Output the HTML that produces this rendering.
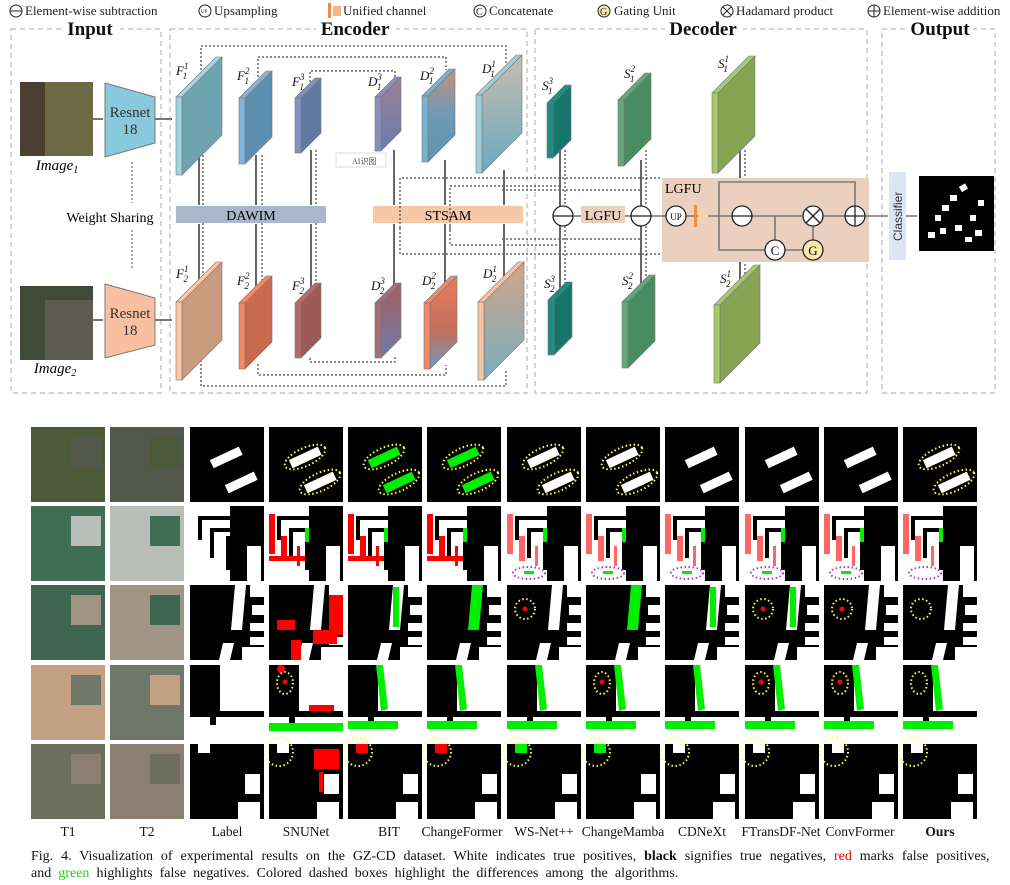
<!DOCTYPE html>
<html><head><meta charset="utf-8"><style>
body{margin:0;background:#fff;width:1010px;height:885px;overflow:hidden;font-family:"Liberation Serif",serif}
svg{position:absolute;left:0;top:0}
.cap{position:absolute;left:31px;width:960px;font-size:14px;line-height:17px;color:#111;white-space:nowrap}
</style></head><body>
<svg id="s" width="1010" height="885" xmlns="http://www.w3.org/2000/svg" font-family="Liberation Serif, serif">
<defs>
<linearGradient id="gd1" x1="0" y1="0" x2="0" y2="1"><stop offset="0" stop-color="#9c7f95"/><stop offset="1" stop-color="#6a7cae"/></linearGradient>
<linearGradient id="gd2" x1="0" y1="0" x2="0" y2="1"><stop offset="0" stop-color="#c4907f"/><stop offset="0.5" stop-color="#6d9ab5"/><stop offset="1" stop-color="#5f93ad"/></linearGradient>
<linearGradient id="gd3" x1="0" y1="0" x2="0" y2="1"><stop offset="0" stop-color="#c8bcae"/><stop offset="1" stop-color="#6aaac0"/></linearGradient>
<linearGradient id="ge1" x1="0" y1="0" x2="0" y2="1"><stop offset="0" stop-color="#a36060"/><stop offset="1" stop-color="#6d7aa9"/></linearGradient>
<linearGradient id="ge2" x1="0" y1="0" x2="0" y2="1"><stop offset="0" stop-color="#e87d5c"/><stop offset="0.6" stop-color="#c46e5e"/><stop offset="1" stop-color="#6a9cc0"/></linearGradient>
<linearGradient id="ge3" x1="0" y1="0" x2="0" y2="1"><stop offset="0" stop-color="#d2a488"/><stop offset="1" stop-color="#79aebf"/></linearGradient>
</defs>
<g font-size="13" fill="#222">
<circle cx="16" cy="11" r="6" fill="none" stroke="#222"/><line x1="10" y1="11" x2="22" y2="11" stroke="#222"/>
<text x="25" y="15">Element-wise subtraction</text>
<circle cx="205" cy="11" r="6" fill="none" stroke="#222"/><text x="201" y="13" font-size="5">UP</text>
<text x="214" y="15">Upsampling</text>
<rect x="328" y="3" width="3" height="16" fill="#f08a3c"/><rect x="333" y="6" width="8" height="10" fill="#f3b58a"/>
<text x="343" y="15">Unified channel</text>
<circle cx="480" cy="11" r="6" fill="none" stroke="#222"/><text x="476" y="15" font-size="10">C</text>
<text x="489" y="15">Concatenate</text>
<circle cx="604" cy="11" r="6" fill="#f8e8a8" stroke="#222"/><text x="600" y="15" font-size="10">G</text>
<text x="614" y="15">Gating Unit</text>
<circle cx="727" cy="11" r="6" fill="none" stroke="#222"/><line x1="723" y1="7" x2="731" y2="15" stroke="#222"/><line x1="731" y1="7" x2="723" y2="15" stroke="#222"/>
<text x="736" y="15">Hadamard product</text>
<circle cx="874" cy="11" r="6" fill="none" stroke="#222"/><line x1="868" y1="11" x2="880" y2="11" stroke="#222"/><line x1="874" y1="5" x2="874" y2="17" stroke="#222"/>
<text x="883" y="15">Element-wise addition</text>
</g>
<g fill="none" stroke="#bbb" stroke-dasharray="5,4" stroke-width="1.2">
<rect x="11" y="29" width="150" height="364"/>
<rect x="170" y="29" width="357" height="364"/>
<rect x="535" y="29" width="332" height="364"/>
<rect x="882" y="29" width="113" height="364"/>
</g>
<g font-weight="bold" font-size="19" text-anchor="middle" fill="#111">
<rect x="62" y="18" width="58" height="20" fill="#fff"/><text x="90" y="35">Input</text>
<rect x="316" y="18" width="80" height="20" fill="#fff"/><text x="355" y="35">Encoder</text>
<rect x="665" y="18" width="78" height="20" fill="#fff"/><text x="703" y="35">Decoder</text>
<rect x="907" y="18" width="66" height="20" fill="#fff"/><text x="940" y="35">Output</text>
</g>
<rect x="20" y="82" width="73" height="74" fill="#6e6a45"/><rect x="20" y="82" width="25" height="74" fill="#4b3f31"/>
<rect x="20" y="286" width="73" height="74" fill="#3f4a38"/><rect x="45" y="300" width="48" height="60" fill="#5d5c52"/>
<text x="57" y="170" font-size="15" font-style="italic" text-anchor="middle">Image<tspan font-size="10" dy="3">1</tspan></text>
<text x="55" y="373" font-size="15" font-style="italic" text-anchor="middle">Image<tspan font-size="10" dy="3">2</tspan></text>
<polygon points="105,83 155,97 155,143 105,157" fill="#88cadb" stroke="#777"/>
<polygon points="105,284 155,298 155,345 105,358" fill="#f8c0a0" stroke="#777"/>
<g font-size="15" text-anchor="middle" fill="#333"><text x="130" y="117">Resnet</text><text x="130" y="134">18</text><text x="130" y="318">Resnet</text><text x="130" y="335">18</text></g>
<text x="110" y="222" font-size="14" text-anchor="middle">Weight Sharing</text>
<g stroke="#555" stroke-dasharray="2,2" fill="none"><line x1="132" y1="162" x2="132" y2="203"/><line x1="132" y1="230" x2="132" y2="270"/></g>
<g stroke="#777" stroke-width="2"><line x1="93" y1="119" x2="103" y2="119"/><line x1="93" y1="320" x2="103" y2="320"/><line x1="155" y1="119" x2="172" y2="119"/><line x1="155" y1="320" x2="172" y2="320"/></g>
<rect x="176" y="206" width="150" height="17" fill="#aab6c9"/><text x="251" y="220" font-size="14" text-anchor="middle">DAWIM</text>
<rect x="373" y="206" width="150" height="17" fill="#f6c8a8"/><text x="448" y="220" font-size="14" text-anchor="middle">STSAM</text>
<rect x="336" y="153" width="50" height="14" fill="#fff" stroke="#ddd"/><text x="352" y="164" font-size="8" fill="#555">AI识图</text>
<g fill="none" stroke="#444" stroke-dasharray="2,2" stroke-width="1.2">
<polyline points="201,94 201,46 506,46 506,66"/><polyline points="258,97 258,57 446,57 446,70"/><polyline points="310,98 310,71 395,71 395,80"/>
<polyline points="201,340 201,386 506,386 506,370"/><polyline points="258,364 258,375 446,375 446,365"/><polyline points="310,358 310,362 395,362 395,356"/>
<polyline points="400,228 400,178 660,178"/><polyline points="450,230 450,186 560,186"/><polyline points="502,190 640,190"/>
<polyline points="400,228 400,254 660,254"/><polyline points="450,226 450,245 560,245"/><polyline points="502,239 640,239"/>
<line x1="203" y1="155" x2="203" y2="206"/><line x1="262" y1="155" x2="262" y2="206"/><line x1="316" y1="150" x2="316" y2="206"/>
<line x1="203" y1="223" x2="203" y2="302"/><line x1="262" y1="223" x2="262" y2="302"/><line x1="316" y1="223" x2="316" y2="303"/>
<line x1="565" y1="150" x2="565" y2="206"/><line x1="646" y1="150" x2="646" y2="206"/><line x1="565" y1="226" x2="565" y2="290"/><line x1="646" y1="226" x2="646" y2="290"/>
<line x1="745" y1="150" x2="745" y2="205"/><line x1="745" y1="228" x2="745" y2="290"/>
</g>
<g stroke="#666" stroke-width="2">
<line x1="199" y1="155" x2="199" y2="205"/><line x1="256" y1="155" x2="256" y2="205"/><line x1="311" y1="150" x2="311" y2="205"/>
<line x1="199" y1="224" x2="199" y2="300"/><line x1="256" y1="224" x2="256" y2="300"/><line x1="311" y1="224" x2="311" y2="300"/>
<line x1="394" y1="150" x2="394" y2="205"/><line x1="445" y1="160" x2="445" y2="205"/><line x1="504" y1="170" x2="504" y2="205"/>
<line x1="394" y1="224" x2="394" y2="300"/><line x1="445" y1="224" x2="445" y2="300"/><line x1="504" y1="224" x2="504" y2="300"/>
<line x1="560" y1="150" x2="560" y2="290"/><line x1="641" y1="160" x2="641" y2="290"/><line x1="740" y1="146" x2="740" y2="290"/>
</g>
<rect x="662" y="178" width="207" height="84" fill="#ecd0bf"/>
<text x="665" y="193" font-size="14">LGFU</text>
<rect x="581" y="206" width="44" height="17" fill="#ecd0bf"/><text x="603" y="220" font-size="14" text-anchor="middle">LGFU</text>
<g stroke="#777" stroke-width="1.6" fill="none">
<line x1="573" y1="216" x2="581" y2="216"/><line x1="625" y1="216" x2="631" y2="216"/><line x1="651" y1="216" x2="666" y2="216"/>
<line x1="686" y1="216" x2="732" y2="216"/><line x1="752" y1="216" x2="803" y2="216"/><line x1="823" y1="216" x2="845" y2="216"/><line x1="865" y1="216" x2="888" y2="216"/>
<polyline points="719,216 719,182 855,182 855,206"/><polyline points="719,216 719,250 765,250"/><line x1="775" y1="216" x2="775" y2="240"/>
<line x1="785" y1="250" x2="803" y2="250"/><line x1="813" y1="240" x2="813" y2="226"/><line x1="905" y1="216" x2="917" y2="216"/>
</g>
<g fill="#fff" stroke="#222" stroke-width="1.3">
<circle cx="563" cy="216" r="10"/><circle cx="641" cy="216" r="10"/><circle cx="676" cy="216" r="10"/><circle cx="742" cy="216" r="10"/>
<circle cx="813" cy="216" r="10"/><circle cx="855" cy="216" r="10"/><circle cx="775" cy="250" r="10"/><circle cx="813" cy="250" r="10" fill="#fbeab0"/>
</g>
<g stroke="#222" stroke-width="1.3"><line x1="553" y1="216" x2="573" y2="216"/><line x1="631" y1="216" x2="651" y2="216"/><line x1="732" y1="216" x2="752" y2="216"/>
<line x1="806" y1="209" x2="820" y2="223"/><line x1="820" y1="209" x2="806" y2="223"/><line x1="845" y1="216" x2="865" y2="216"/><line x1="855" y1="206" x2="855" y2="226"/></g>
<text x="676" y="220" font-size="9" text-anchor="middle">UP</text><text x="775" y="255" font-size="13" text-anchor="middle">C</text><text x="813" y="255" font-size="13" text-anchor="middle">G</text>
<rect x="694" y="205" width="3" height="22" fill="#f08a3c"/><rect x="698" y="210" width="10" height="10" fill="#f6d0b0"/>
<rect x="889" y="172" width="17" height="88" fill="#dbe6f5"/>
<text transform="translate(902,241) rotate(-90)" font-family="Liberation Sans, sans-serif" font-size="12" fill="#333">Classifier</text>
<rect x="919" y="176" width="75" height="75" fill="#000"/>
<g fill="#fff"><rect x="960" y="185" width="7" height="6" transform="rotate(-30 963 188)"/><rect x="950" y="195" width="7" height="6"/><rect x="942" y="205" width="7" height="6"/><rect x="935" y="215" width="6" height="6"/><rect x="928" y="232" width="7" height="6"/><rect x="940" y="228" width="6" height="6"/><rect x="955" y="225" width="7" height="6"/><rect x="970" y="215" width="6" height="6"/><rect x="975" y="230" width="7" height="6"/><rect x="965" y="237" width="7" height="5"/><rect x="978" y="200" width="6" height="6"/></g>
<g id="slabs"></g>
<g font-size="13" font-style="italic" fill="#111">
<text x="176" y="75">F<tspan font-size="9" dy="-6">1</tspan><tspan font-size="9" dx="-5" dy="10">1</tspan></text>
<text x="237" y="80">F<tspan font-size="9" dy="-6">2</tspan><tspan font-size="9" dx="-5" dy="10">1</tspan></text>
<text x="292" y="86">F<tspan font-size="9" dy="-6">3</tspan><tspan font-size="9" dx="-5" dy="10">1</tspan></text>
<text x="368" y="86">D<tspan font-size="9" dy="-6">3</tspan><tspan font-size="9" dx="-5" dy="10">1</tspan></text>
<text x="420" y="80">D<tspan font-size="9" dy="-6">2</tspan><tspan font-size="9" dx="-5" dy="10">1</tspan></text>
<text x="482" y="73">D<tspan font-size="9" dy="-6">1</tspan><tspan font-size="9" dx="-5" dy="10">1</tspan></text>
<text x="176" y="278">F<tspan font-size="9" dy="-6">1</tspan><tspan font-size="9" dx="-5" dy="10">2</tspan></text>
<text x="237" y="285">F<tspan font-size="9" dy="-6">2</tspan><tspan font-size="9" dx="-5" dy="10">2</tspan></text>
<text x="292" y="290">F<tspan font-size="9" dy="-6">3</tspan><tspan font-size="9" dx="-5" dy="10">2</tspan></text>
<text x="371" y="290">D<tspan font-size="9" dy="-6">3</tspan><tspan font-size="9" dx="-5" dy="10">2</tspan></text>
<text x="422" y="285">D<tspan font-size="9" dy="-6">2</tspan><tspan font-size="9" dx="-5" dy="10">2</tspan></text>
<text x="483" y="278">D<tspan font-size="9" dy="-6">1</tspan><tspan font-size="9" dx="-5" dy="10">2</tspan></text>
<text x="542" y="90">S<tspan font-size="9" dy="-6">3</tspan><tspan font-size="9" dx="-5" dy="10">1</tspan></text>
<text x="624" y="78">S<tspan font-size="9" dy="-6">2</tspan><tspan font-size="9" dx="-5" dy="10">1</tspan></text>
<text x="718" y="68">S<tspan font-size="9" dy="-6">1</tspan><tspan font-size="9" dx="-5" dy="10">1</tspan></text>
<text x="544" y="288">S<tspan font-size="9" dy="-6">3</tspan><tspan font-size="9" dx="-5" dy="10">2</tspan></text>
<text x="622" y="285">S<tspan font-size="9" dy="-6">2</tspan><tspan font-size="9" dx="-5" dy="10">2</tspan></text>
<text x="720" y="283">S<tspan font-size="9" dy="-6">1</tspan><tspan font-size="9" dx="-5" dy="10">2</tspan></text>
</g>
<g id="grid"></g>
<g font-size="13.5" text-anchor="middle" fill="#111">
<text x="68" y="836">T1</text><text x="147" y="836">T2</text><text x="227" y="836">Label</text><text x="306" y="836">SNUNet</text>
<text x="389" y="836">BIT</text><text x="462" y="836">ChangeFormer</text><text x="544" y="836">WS-Net++</text><text x="623" y="836">ChangeMamba</text>
<text x="702" y="836">CDNeXt</text><text x="781" y="836">FTransDF-Net</text><text x="860" y="836">ConvFormer</text><text x="940" y="836" font-weight="bold">Ours</text>
</g>
</svg>
<div class="cap" style="top:848px"><span style="word-spacing:4.4px">Fig. 4. Visualization of experimental results on the GZ-CD dataset. White indicates true positives, <b>black</b> signifies true negatives, <span style="color:#e00">red</span> marks false positives,</span><br><span style="word-spacing:3.6px">and <span style="color:#2c2">green</span> highlights false negatives. Colored dashed boxes highlight the differences among the algorithms.</span></div>
<script>
var NS="http://www.w3.org/2000/svg";
function el(p,t,a){var e=document.createElementNS(NS,t);for(var k in a)e.setAttribute(k,a[k]);p.appendChild(e);return e;}
var sl=document.getElementById("slabs");
function slab(x,y,h,D,strip,face,w){w=w||6;
el(sl,"polygon",{points:(x+w)+","+y+" "+(x+w+D)+","+(y-D)+" "+(x+w+D)+","+(y+h-D)+" "+(x+w)+","+(y+h),fill:face,stroke:"#777","stroke-width":0.6});
el(sl,"polygon",{points:x+","+y+" "+(x+D)+","+(y-D)+" "+(x+w+D)+","+(y-D)+" "+(x+w)+","+y,fill:strip,stroke:"#777","stroke-width":0.6});
el(sl,"rect",{x:x,y:y,width:w,height:h,fill:strip,stroke:"#777","stroke-width":0.6});}
slab(176,97,78,40,"#9fd6e6","#6fa3b0");slab(239,98,66,27,"#7fb5d8","#5d8fae");slab(295,98,55,20,"#7d93c8","#6179a3");
slab(375,97,54,20,"#8a8fba","url(#gd1)");slab(422,96,66,27,"#7ab1d0","url(#gd2)");slab(476,95,78,40,"#9ccfd9","url(#gd3)");
slab(176,302,78,40,"#fbc7a3","#c99b7e");slab(239,303,66,27,"#f38a66","#c86a50");slab(295,303,55,20,"#b86a68","#9b5a58");
slab(375,303,55,20,"#a46d78","url(#ge1)");slab(424,303,66,27,"#f0886a","url(#ge2)");slab(478,302,78,40,"#f6c4a2","url(#ge3)");
slab(547,103,55,18,"#1e8c80","#17766c");slab(618,100,66,27,"#62a87a","#4a8c62");slab(712,93,80,37,"#a6cc6a","#86a452");
slab(548,300,55,18,"#1e8c80","#17766c");slab(622,302,66,27,"#62a87a","#4a8c62");slab(714,305,78,40,"#a6cc6a","#86a452");
var g=document.getElementById("grid");
var X=[31,110,190,269,348,427,507,586,665,745,824,903],Y=[427,506,585,665,744],S=74;
var img=[["#4c5a3a","#54584a"],["#3f6e55","#b9bdb7"],["#3f6650","#a09484"],["#c4a083","#6f7868"],["#6c6f5e","#8a7f70"]];
function R(x,y,a,b,c,d,f){el(g,"rect",{x:x+a,y:y+b,width:c,height:d,fill:f});}
function poly(x,y,arr,f){var s=[];for(var i=0;i<arr.length;i+=2)s.push((x+arr[i])+","+(y+arr[i+1]));el(g,"polygon",{points:s.join(" "),fill:f});}
function ell(cx,cy,rx,ry,rot,c){el(g,"ellipse",{cx:cx,cy:cy,rx:rx,ry:ry,fill:"none",stroke:c,"stroke-width":2,"stroke-dasharray":"1.5,2.5",transform:"rotate("+rot+" "+cx+" "+cy+")"});}
for(var r=0;r<5;r++)for(var c=0;c<12;c++){var x=X[c],y=Y[r];
 if(c<2){R(x,y,0,0,74,75,img[r][c]);R(x,y,40,10,30,30,img[r][1-c]);continue;}
 var red="#f00",grn="#0e0";
 if(r==0){R(x,y,0,0,74,75,"#000");
  var b1=c==4||c==5?grn:"#fff";
  el(g,"rect",{x:x+20,y:y+26,width:32,height:9,fill:b1,transform:"rotate(-25 "+(x+36)+" "+(y+30)+")"});
  el(g,"rect",{x:x+35,y:y+51,width:32,height:9,fill:b1,transform:"rotate(-25 "+(x+51)+" "+(y+55)+")"});
  if(c>=3&&c<=7||c==11){ell(x+36,y+30,22,9,-25,"#ff3");ell(x+51,y+55,22,9,-25,"#ff3");}
 } else if(r==1){R(x,y,0,0,74,75,"#fff");
  R(x,y,40,0,34,75,"#000");R(x,y,57,40,14,35,"#fff");R(x,y,0,58,40,17,"#fff");
  R(x,y,8,10,32,4,"#000");R(x,y,8,10,4,24,"#000");R(x,y,20,22,20,4,"#000");R(x,y,20,22,4,30,"#000");R(x,y,36,30,4,34,"#000");
  if(c>2){var q=c<6?red:"#f66";R(x,y,0,8,6,40,q);R(x,y,12,30,6,25,q);R(x,y,28,40,3,20,q);if(c<6)R(x,y,0,50,36,5,q);R(x,y,36,22,4,14,grn);}
  if(c>=6){ell(x+22,y+67,16,6,0,"#a3c");if(c<11)R(x,y,17,65,10,3,grn);}
 } else if(r==2){R(x,y,0,0,74,75,"#000");
  poly(x,y,[45,0,56,0,52,45,41,45],c==5||c==7?grn:"#fff");
  R(x,y,60,0,14,12,"#fff");R(x,y,62,20,12,10,"#fff");R(x,y,60,38,14,8,"#fff");R(x,y,60,52,14,8,"#fff");
  poly(x,y,[33,58,44,58,40,75,29,75],"#fff");R(x,y,52,62,22,13,"#fff");
  if(c==3){R(x,y,8,35,18,10,red);R(x,y,44,45,24,14,red);R(x,y,22,55,10,20,red);R(x,y,60,10,14,40,red);}
  if(c==4||c==8||c==9){R(x,y,45,2,6,40,grn);}
  if(c==6||c==9||c==10){el(g,"circle",{cx:x+18,cy:y+24,r:2.5,fill:red});}
  if(c>=6&&c!=7&&c!=8)ell(x+18,y+24,10,10,0,"#ff3");
 } else if(r==3){R(x,y,0,0,74,75,"#000");
  R(x,y,30,0,44,46,"#fff");R(x,y,0,52,74,23,"#fff");R(x,y,20,52,6,8,"#000");
  if(c>3){poly(x,y,[28,0,35,0,40,44,33,46],grn);R(x,y,0,56,50,8,grn);}
  if(c==3){R(x,y,0,58,74,8,grn);R(x,y,40,40,25,6,red);el(g,"circle",{cx:x+12,cy:y+4,r:4,fill:red});}
  if(c==3||c==7||c==9||c==10||c==11){ell(x+16,y+18,8,11,0,"#ff3");if(c!=11)el(g,"circle",{cx:x+16,cy:y+17,r:2.5,fill:red});}
 } else {R(x,y,0,0,74,75,"#000");
  R(x,y,8,0,12,9,c==4||c==5?red:(c==6||c==7?grn:"#fff"));R(x,y,55,30,15,20,"#fff");R(x,y,48,58,22,17,"#fff");
  if(c==3){R(x,y,45,5,25,20,red);R(x,y,50,28,4,20,red);}
  if(c>=3)ell(x+10,y+8,14,14,0,"#ff3");
 }
}
</script>
</body></html>
